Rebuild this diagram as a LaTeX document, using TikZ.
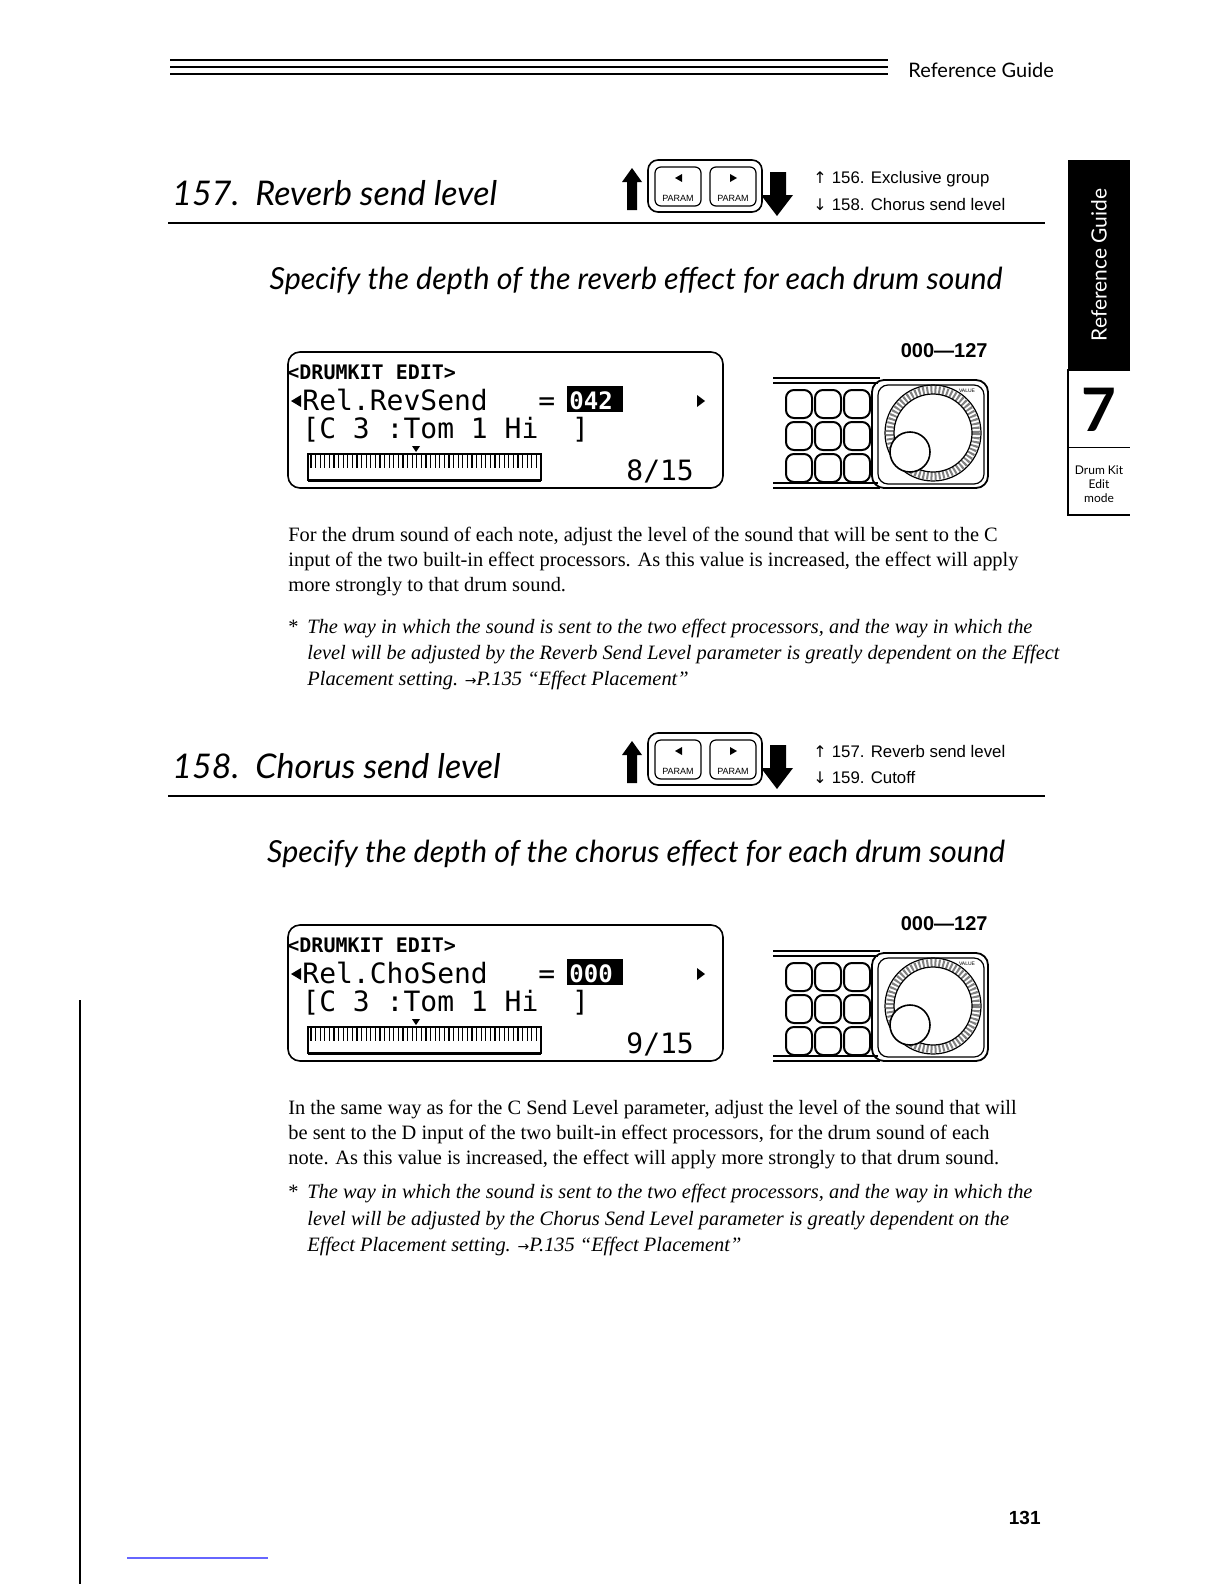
\documentclass[tikz,border=0pt]{standalone}
\usepackage{fontspec}
\setmainfont{Liberation Serif}
\newfontfamily\hsans{Lato}
\newfontfamily\asans{Liberation Sans}
\newfontfamily\lcd{DejaVu Sans Mono}
\newfontfamily\djf{DejaVu Sans}
\begin{document}
\begin{tikzpicture}[x=0.5pt,y=-0.5pt,
  bodyt/.style={anchor=base west,inner sep=0,font=\fontsize{10.2}{12}\selectfont},
  notet/.style={anchor=base west,inner sep=0,font=\fontsize{10.2}{12}\selectfont\itshape},
  reft/.style={anchor=base west,inner sep=0,font=\asans\fontsize{8.4}{10}\selectfont},
  keybox/.style={draw,rounded corners=3pt,line width=0.6pt},
  lcdt/.style={anchor=base west,inner sep=0}]
\useasboundingbox (0,0) rectangle (1224,1584);
% header
\foreach \yy in {60,67,74} \draw[line width=0.9pt] (170,\yy) -- (888,\yy);
\node[anchor=base west,inner sep=0,font=\hsans\fontsize{10}{12}\selectfont] (hdr) at (908,78) {Reference Guide};
% side tab
\fill (1068,160) rectangle (1130,370);
\node[rotate=90,text=white,font=\hsans\fontsize{10.5}{12}\selectfont] (tab) at (1099,265) {Reference Guide};
\draw[line width=0.7pt] (1130,370) -- (1068,370) -- (1068,515) -- (1130,515);
\draw[line width=0.5pt] (1068,447) -- (1130,447);
\node[font=\hsans\bfseries\fontsize{30}{30}\selectfont] (seven) at (1099,410) {7};
\node[align=center,font=\hsans\fontsize{6}{7}\selectfont] (dk) at (1099,484) {Drum Kit\\Edit\\mode};
% page number & marks
\node[anchor=base east,inner sep=0,font=\asans\bfseries\fontsize{9.5}{11}\selectfont] (pg) at (1041,1524) {131};
\draw[line width=0.8pt] (80,1000) -- (80,1584);
\draw[blue!60,line width=0.6pt] (127,1558) -- (268,1558);
\newcommand{\pagesec}[9]{%
\begin{scope}[shift={(0,#1)}]
\node[anchor=base west,inner sep=0,font=\hsans\itshape\fontsize{17}{20}\selectfont] (ti) at (172,205) {#2};
\draw[line width=1.2pt] (168,223) -- (1045,223);
\fill (632,168) -- (642,182) -- (637,182) -- (637,210) -- (627,210) -- (627,182) -- (622,182) -- cycle;
\draw[keybox,line width=0.8pt,rounded corners=5pt] (648,160) rectangle (762,212);
\draw[keybox] (655,167) rectangle (701,206);
\draw[keybox] (710,167) rectangle (756,206);
\fill (675,178) -- (682,174) -- (682,182) -- cycle;
\fill (737,178) -- (730,174) -- (730,182) -- cycle;
\node[font=\asans\fontsize{4.5}{5}\selectfont,inner sep=0] (p1) at (678,198) {PARAM};
\node[font=\asans\fontsize{4.5}{5}\selectfont,inner sep=0] (p2) at (733,198) {PARAM};
\fill (780,172) -- (786,172) -- (786,195) -- (793,195) -- (777,216) -- (761,195) -- (770,195) -- (770,172) -- cycle;
\node[reft] (r1) at (813,184) {\djf\fontsize{8}{10}\selectfont↑ \asans\fontsize{8.4}{10}\selectfont #3};
\node[reft] (r2) at (813,210) {\djf\fontsize{8}{10}\selectfont↓ \asans\fontsize{8.4}{10}\selectfont #4};
\node[anchor=base,inner sep=0,font=\hsans\itshape\fontsize{15.2}{18}\selectfont] (sub) at (636,289) {#5};
% LCD
\draw[line width=0.8pt,rounded corners=6pt] (288,352) rectangle (723,488);
\node[lcdt,font=\lcd\bfseries\fontsize{10}{12}\selectfont] (l1) at (287,379) {<DRUMKIT EDIT>};
\fill (291,401) -- (301,395) -- (301,407) -- cycle;
\node[lcdt,font=\lcd\fontsize{14}{16}\selectfont] (l2) at (302,410) {#6\ \ \ =};
\fill (567,386) rectangle (623,412);
\node[lcdt,text=white,font=\lcd\bfseries\fontsize{12}{14}\selectfont] (val) at (569,409) {#7};
\fill (697,395) -- (705,401) -- (697,407) -- cycle;
\node[lcdt,font=\lcd\fontsize{14}{16}\selectfont] (l3) at (302,438) {[C 3 :Tom 1 Hi \ ]};
\draw[line width=1pt] (308,454) rectangle (541,480);
\foreach \i in {0,...,49} \draw[line width=0.6pt] ({311+\i*4.6},455) -- ({311+\i*4.6},468);
\fill (412,446) -- (420,446) -- (416,452) -- cycle;
\draw[line width=1.5pt] (308,480) -- (541,480);
\node[lcdt,font=\lcd\fontsize{14}{16}\selectfont] (pgn) at (626,480) {#8};
% value & panel
\node[anchor=base east,inner sep=0,font=\asans\bfseries\fontsize{10}{12}\selectfont] (rng) at (988,357) {000—127};
\draw[line width=0.7pt] (773,378) -- (880,378) (773,383) -- (878,383) (773,488) -- (880,488) (773,483) -- (878,483);
\draw[line width=0.9pt,rounded corners=6pt] (872,380) rectangle (988,488);
\draw[line width=0.6pt,rounded corners=5pt] (878,385) rectangle (984,484);
\foreach \c in {0,1,2} \foreach \r in {0,1,2}
  \draw[line width=1pt,rounded corners=4pt] ({786+\c*29},{390+\r*32}) rectangle ({812+\c*29},{418+\r*32});
\draw[line width=0.6pt] (933,433) circle (48);
\draw[line width=4pt,dash pattern=on 1pt off 1pt,gray] (933,433) circle (43);
\draw[line width=0.6pt] (933,433) circle (39);
\draw[line width=0.8pt,fill=white] (910,452) circle (20);
\node[font=\asans\fontsize{2.5}{3}\selectfont,inner sep=0] (vl) at (967,391) {VALUE};
% body
#9
\end{scope}}
\pagesec{0}{157.\ \ Reverb send level}{156. Exclusive group}{158. Chorus send level}{Specify the depth of the reverb effect for each drum sound}{Rel.RevSend}{042}{8/15}{%
\node[bodyt] (b1) at (288,541) {For the drum sound of each note, adjust the level of the sound that will be sent to the C};
\node[bodyt] (b2) at (288,566) {input of the two built-in effect processors. As this value is increased, the effect will apply};
\node[bodyt] (b3) at (288,591) {more strongly to that drum sound.};
\node[bodyt] (s) at (288,633) {*};
\node[notet] (n1) at (307,633) {The way in which the sound is sent to the two effect processors, and the way in which the};
\node[notet] (n2) at (307,659) {level will be adjusted by the Reverb Send Level parameter is greatly dependent on the Effect};
\node[notet] (n3) at (307,685) {Placement setting. {\djf\upshape\fontsize{7}{8}\selectfont→}P.135 “Effect Placement”};}
\pagesec{573}{158.\ \ Chorus send level}{157. Reverb send level}{159. Cutoff}{Specify the depth of the chorus effect for each drum sound}{Rel.ChoSend}{000}{9/15}{%
\node[bodyt] (b1) at (288,541) {In the same way as for the C Send Level parameter, adjust the level of the sound that will};
\node[bodyt] (b2) at (288,566) {be sent to the D input of the two built-in effect processors, for the drum sound of each};
\node[bodyt] (b3) at (288,591) {note. As this value is increased, the effect will apply more strongly to that drum sound.};
\node[bodyt] (s) at (288,625) {*};
\node[notet] (n1) at (307,625) {The way in which the sound is sent to the two effect processors, and the way in which the};
\node[notet] (n2) at (307,652) {level will be adjusted by the Chorus Send Level parameter is greatly dependent on the};
\node[notet] (n3) at (307,678) {Effect Placement setting. {\djf\upshape\fontsize{7}{8}\selectfont→}P.135 “Effect Placement”};}
\end{tikzpicture}
\end{document}
